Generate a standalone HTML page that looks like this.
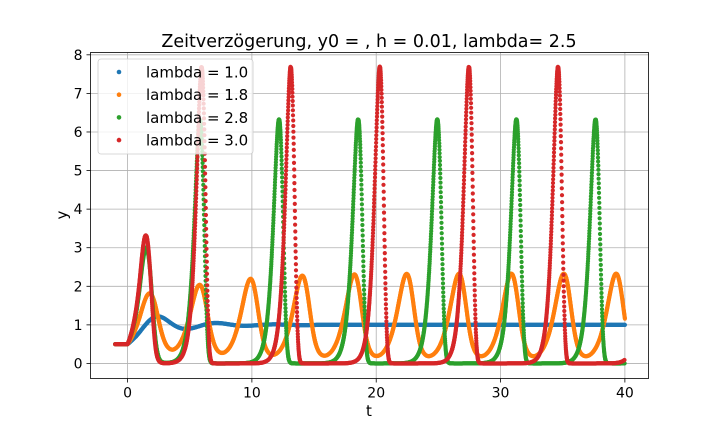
<!DOCTYPE html>
<html><head><meta charset="utf-8">
<style>
body{margin:0;background:#fff;font-family:"DejaVu Sans","Liberation Sans",sans-serif;}
svg text{font-family:"DejaVu Sans","Liberation Sans",sans-serif;fill:#000;}
</style></head>
<body>
<svg id="chart" width="720" height="432" xmlns="http://www.w3.org/2000/svg">
<rect width="720" height="432" fill="#fff"/>
<text x="369" y="47" font-size="17.5" text-anchor="middle">Zeitverzögerung, y0 = , h = 0.01, lambda= 2.5</text>
<g id="grid"></g>
<g id="marks"></g>
<g id="axes"></g>
<text x="369" y="416" font-size="15" text-anchor="middle">t</text>
<text x="0" y="0" font-size="15" text-anchor="middle" transform="translate(67,215) rotate(-90)">y</text>
<g id="legend"></g>
</svg>
<script>
const lambdas = [1.0, 1.8, 2.8, 3.0];
const seriesLabels = ["lambda = 1.0", "lambda = 1.8", "lambda = 2.8", "lambda = 3.0"];
const y0 = 0.5;
const stepH = 0.01;
const tStart = -1;
const tEnd = 40;
const xTicks = [0, 10, 20, 30, 40];
const yTicks = [0, 1, 2, 3, 4, 5, 6, 7, 8];
const colors = ["#1f77b4", "#ff7f0e", "#2ca02c", "#d62728"];

const L = 90.5, R = 648.5, T = 52.5, B = 378.5;
const xMin = -2.98, xMax = 41.9, yMin = -0.39, yMax = 8.06;
const sx = v => L + (v - xMin) / (xMax - xMin) * (R - L);
const sy = v => B - (v - yMin) / (yMax - yMin) * (B - T);
const NS = "http://www.w3.org/2000/svg";
function mk(tag, attrs, parent) { const e = document.createElementNS(NS, tag); for (const k in attrs) e.setAttribute(k, attrs[k]); parent.appendChild(e); return e; }

const grid = document.getElementById('grid'), axes = document.getElementById('axes'), marks = document.getElementById('marks');
xTicks.forEach(v => {
  const x = sx(v);
  const g = mk('line', {x1: x, x2: x, y1: T, y2: B, stroke: '#b0b0b0', 'stroke-width': 0.8}, grid);
  
  
  mk('line', {x1: x, x2: x, y1: B, y2: B + 4, stroke: '#000', 'stroke-width': 0.8}, axes);
  const t = mk('text', {x: x, y: B + 19, 'font-size': 14, 'text-anchor': 'middle'}, axes);
  t.textContent = v;
  
  
});
yTicks.forEach(v => {
  const y = sy(v);
  const g = mk('line', {x1: L, x2: R, y1: y, y2: y, stroke: '#b0b0b0', 'stroke-width': 0.8}, grid);
  
  
  mk('line', {x1: L - 4, x2: L, y1: y, y2: y, stroke: '#000', 'stroke-width': 0.8}, axes);
  const t = mk('text', {x: L - 8, y: y + 5, 'font-size': 14, 'text-anchor': 'end'}, axes);
  t.textContent = v;
  
  
});
mk('rect', {x: L, y: T, width: R - L, height: B - T, fill: 'none', stroke: '#000', 'stroke-width': 0.8}, axes);

// delayed logistic equation y'(t) = lambda*y(t)*(1 - y(t-1)), history y0 on [-1,0]
// explicit step in log space using the delayed value at the start of the step
lambdas.forEach((lam, si) => {
  const g = mk('g', {fill: colors[si]}, marks);
  
  
  const lag = Math.round(1 / stepH);
  const n = Math.round((tEnd - tStart) / stepH);
  const ys = [];
  for (let i = 0; i <= n; i++) {
    const t = tStart + i * stepH;
    if (t <= 1e-9) ys.push(y0);
    else {
      const d0 = ys[i - 1 - lag];
      ys.push(ys[i - 1] * Math.exp(stepH * lam * (1 - d0)));
    }
  }
  let lastX = -99, lastY = -99;
  for (let i = 0; i <= n; i++) {
    const x = sx(tStart + i * stepH), y = sy(ys[i]);
    if (Math.abs(x - lastX) < 0.4 && Math.abs(y - lastY) < 0.4) continue;
    lastX = x; lastY = y;
    mk('circle', {cx: x.toFixed(1), cy: y.toFixed(1), r: 2.1}, g);
  }
});

const leg = document.getElementById('legend');
mk('rect', {x: 98, y: 59, width: 155, height: 95, rx: 3, fill: '#fff', 'fill-opacity': 0.8, stroke: '#ccc', 'stroke-width': 0.8}, leg);
seriesLabels.forEach((lab, i) => {
  const y = 72 + i * 22.7;
  const e = mk('g', {}, leg);
  
  
  mk('circle', {cx: 119, cy: y, r: 2.3, fill: colors[i]}, e);
  const t = mk('text', {x: 146, y: y + 5.5, 'font-size': 15}, e);
  t.textContent = lab;
});
</script>
</body></html>
